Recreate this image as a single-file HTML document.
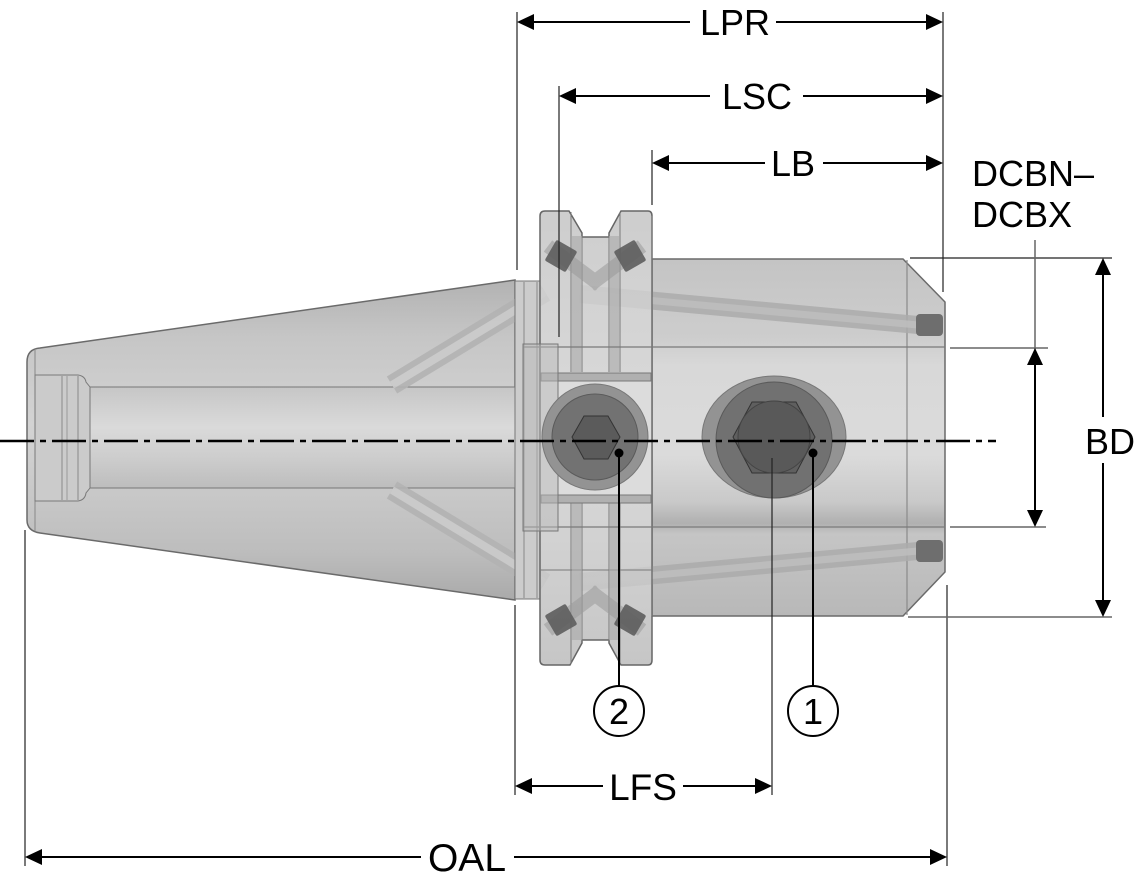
<!DOCTYPE html>
<html><head><meta charset="utf-8"><style>
html,body{margin:0;padding:0;background:#fff;}
svg{display:block;}
text{font-family:"Liberation Sans",Arial,sans-serif;fill:#000;}
</style></head><body>
<svg width="1139" height="879" viewBox="0 0 1139 879" xmlns="http://www.w3.org/2000/svg">
<defs>
 <linearGradient id="tg" gradientUnits="userSpaceOnUse" x1="0" y1="280" x2="0" y2="600">
  <stop offset="0" stop-color="#b2b2b2"/>
  <stop offset="0.18" stop-color="#c6c6c6"/>
  <stop offset="0.45" stop-color="#d3d3d3"/>
  <stop offset="0.6" stop-color="#cccccc"/>
  <stop offset="0.85" stop-color="#bdbdbd"/>
  <stop offset="1" stop-color="#aaaaaa"/>
 </linearGradient>
 <linearGradient id="bore" gradientUnits="userSpaceOnUse" x1="0" y1="387" x2="0" y2="488">
  <stop offset="0" stop-color="#c6c6c6"/>
  <stop offset="0.4" stop-color="#dadada"/>
  <stop offset="0.7" stop-color="#cdcdcd"/>
  <stop offset="1" stop-color="#bdbdbd"/>
 </linearGradient>
 <linearGradient id="bg" gradientUnits="userSpaceOnUse" x1="0" y1="259" x2="0" y2="616">
  <stop offset="0" stop-color="#c4c4c4"/>
  <stop offset="0.22" stop-color="#cdcdcd"/>
  <stop offset="0.3" stop-color="#d8d8d8"/>
  <stop offset="0.55" stop-color="#dbdbdb"/>
  <stop offset="0.68" stop-color="#c9c9c9"/>
  <stop offset="0.74" stop-color="#b0b0b0"/>
  <stop offset="0.77" stop-color="#c5c5c5"/>
  <stop offset="1" stop-color="#b8b8b8"/>
 </linearGradient>
 <linearGradient id="fg" gradientUnits="userSpaceOnUse" x1="0" y1="211" x2="0" y2="665">
  <stop offset="0" stop-color="#c8c8c8"/>
  <stop offset="0.5" stop-color="#d7d7d7"/>
  <stop offset="1" stop-color="#c0c0c0"/>
 </linearGradient>
</defs>

<!-- Taper -->
<path d="M27,362 Q27,349 40,348 L515,280 L515,600 L40,533 Q27,531 27,520 Z" fill="url(#tg)" stroke="#6a6a6a" stroke-width="1.5"/>
<line x1="35" y1="350" x2="35" y2="531" stroke="#888" stroke-width="1"/>
<!-- left pocket -->
<path d="M35,375 L78,375 Q85,376 86,382 L90,387 L90,488 L86,493 Q85,500 78,501 L35,501 Z" fill="#cbcbcb" stroke="#7a7a7a" stroke-width="1"/>
<line x1="62" y1="376" x2="62" y2="500" stroke="#8a8a8a" stroke-width="1"/>
<line x1="67" y1="376" x2="67" y2="500" stroke="#9a9a9a" stroke-width="1"/>
<line x1="78" y1="376" x2="78" y2="500" stroke="#8a8a8a" stroke-width="1"/>
<!-- bore -->
<rect x="90" y="387" width="433" height="101" fill="url(#bore)" stroke="#777" stroke-width="1"/>

<!-- coolant channels in taper -->
<g stroke-linecap="butt" opacity="0.9">
 <line x1="392" y1="385" x2="545" y2="292" stroke="#b3b3b3" stroke-width="20"/>
 <line x1="392" y1="385" x2="545" y2="292" stroke="#cbcbcb" stroke-width="8"/>
 <line x1="392" y1="490" x2="545" y2="583" stroke="#b3b3b3" stroke-width="20"/>
 <line x1="392" y1="490" x2="545" y2="583" stroke="#cbcbcb" stroke-width="8"/>
</g>

<!-- collar -->
<rect x="515" y="281" width="25" height="318" fill="#cccccc" stroke="#777" stroke-width="1"/>
<line x1="524" y1="282" x2="524" y2="598" stroke="#888" stroke-width="1"/>
<line x1="537" y1="282" x2="537" y2="598" stroke="#888" stroke-width="1"/>

<!-- body -->
<path d="M652,259 L903,259 L945,302 L945,572 L903,616 L652,616 Z" fill="url(#bg)" stroke="#6a6a6a" stroke-width="1.5"/>
<line x1="907" y1="260" x2="907" y2="615" stroke="#8a8a8a" stroke-width="1.2"/>
<!-- body coolant channels -->
<line x1="580" y1="294" x2="918" y2="325" stroke="#acacac" stroke-width="18" opacity="0.85"/>
<line x1="580" y1="294" x2="918" y2="325" stroke="#c0c0c0" stroke-width="7" opacity="0.8"/>
<line x1="580" y1="582" x2="918" y2="551" stroke="#acacac" stroke-width="18" opacity="0.85"/>
<line x1="580" y1="582" x2="918" y2="551" stroke="#c0c0c0" stroke-width="7" opacity="0.8"/>
<rect x="916" y="314" width="27" height="22" rx="4" fill="#6e6e6e"/>
<rect x="916" y="540" width="27" height="22" rx="4" fill="#6e6e6e"/>

<!-- flange -->
<path d="M540,216 Q540,211 545,211 L569,211 L582,233 L582,237 L609,237 L609,233 L621,211 L648,211 Q652,211 652,216 L652,660 Q652,665 648,665 L621,665 L609,643 L609,640 L582,640 L582,643 L570,665 L545,665 Q540,665 540,660 Z" fill="url(#fg)" fill-opacity="0.9" stroke="#666" stroke-width="1.5"/>
<g stroke="#7a7a7a" stroke-width="1" fill="none">
 <line x1="571" y1="212" x2="571" y2="372"/>
 <line x1="582" y1="236" x2="582" y2="372"/>
 <line x1="609" y1="236" x2="609" y2="372"/>
 <line x1="620" y1="212" x2="620" y2="372"/>
 <line x1="571" y1="502" x2="571" y2="664"/>
 <line x1="582" y1="502" x2="582" y2="641"/>
 <line x1="609" y1="502" x2="609" y2="641"/>
 <line x1="620" y1="502" x2="620" y2="664"/>
 <line x1="540" y1="570" x2="652" y2="570"/>
</g>
<rect x="572" y="236" width="10" height="136" fill="#a8a8a8" opacity="0.6"/>
<rect x="609" y="236" width="10" height="136" fill="#a8a8a8" opacity="0.6"/>
<rect x="572" y="502" width="10" height="138" fill="#a8a8a8" opacity="0.6"/>
<rect x="609" y="502" width="10" height="138" fill="#a8a8a8" opacity="0.6"/>
<!-- flange X channels -->
<g opacity="0.55">
 <line x1="548" y1="246" x2="600" y2="285" stroke="#9a9a9a" stroke-width="14"/>
 <line x1="642" y1="246" x2="590" y2="285" stroke="#9a9a9a" stroke-width="14"/>
 <line x1="548" y1="630" x2="600" y2="591" stroke="#9a9a9a" stroke-width="14"/>
 <line x1="642" y1="630" x2="590" y2="591" stroke="#9a9a9a" stroke-width="14"/>
</g>
<g fill="#5e5e5e" opacity="0.9">
 <rect x="-12" y="-12" width="24" height="24" rx="2" transform="translate(561,256) rotate(30)"/>
 <rect x="-12" y="-12" width="24" height="24" rx="2" transform="translate(630,256) rotate(-30)"/>
 <rect x="-12" y="-12" width="24" height="24" rx="2" transform="translate(561,620) rotate(-30)"/>
 <rect x="-12" y="-12" width="24" height="24" rx="2" transform="translate(630,620) rotate(30)"/>
</g>
<!-- clamp block -->
<rect x="541" y="380" width="110" height="115" fill="#dcdcdc"/>
<path d="M541,373 L651,373 L651,381 L541,381 Z" fill="#b0b0b0" stroke="#777" stroke-width="1"/>
<path d="M541,495 L651,495 L651,503 L541,503 Z" fill="#b0b0b0" stroke="#777" stroke-width="1"/>

<!-- internal DCB lines -->
<line x1="523" y1="347" x2="945" y2="347" stroke="#7a7a7a" stroke-width="1.2"/>
<line x1="523" y1="527" x2="945" y2="527" stroke="#7a7a7a" stroke-width="1.2"/>
<rect x="523" y="344" width="35" height="187" fill="#b9b9b9" fill-opacity="0.5" stroke="#777" stroke-width="1"/>
<line x1="652" y1="216" x2="652" y2="616" stroke="#777" stroke-width="1"/>

<!-- screw 2 -->
<circle cx="595" cy="437" r="53" fill="#939393" stroke="#777" stroke-width="1"/>
<circle cx="595" cy="437" r="43" fill="#727272" stroke="#5a5a5a" stroke-width="1"/>
<polygon points="572,437 584,416 608,416 620,437 608,459 584,459" fill="#5b5b5b" stroke="#333" stroke-width="1"/>
<!-- screw 1 -->
<ellipse cx="774" cy="437" rx="72" ry="61" fill="#939393" stroke="#777" stroke-width="1"/>
<circle cx="774" cy="440" r="58" fill="#717171" stroke="#5a5a5a" stroke-width="1"/>
<polygon points="733,437 752,402 796,402 815,437 796,473 752,473" fill="#5f5f5f" stroke="#333" stroke-width="1"/>
<circle cx="774" cy="437" r="36" fill="#595959" stroke="#444" stroke-width="1"/>

<!-- centerline -->
<line x1="0" y1="441" x2="996" y2="441" stroke="#000" stroke-width="2.5" stroke-dasharray="34 6 6 6"/>

<!-- leaders -->
<circle cx="619" cy="453" r="4.5" fill="#000"/>
<line x1="619" y1="453" x2="619" y2="686" stroke="#000" stroke-width="2"/>
<circle cx="619" cy="711" r="25" fill="#fff" stroke="#000" stroke-width="2"/>
<text x="619" y="724" font-size="36" text-anchor="middle">2</text>
<circle cx="813" cy="453" r="4.5" fill="#000"/>
<line x1="813" y1="453" x2="813" y2="686" stroke="#000" stroke-width="2"/>
<circle cx="813" cy="711" r="25" fill="#fff" stroke="#000" stroke-width="2"/>
<text x="813" y="724" font-size="36" text-anchor="middle">1</text>

<!-- extension lines -->
<g stroke="#222" stroke-width="1.2">
 <line x1="517" y1="12" x2="517" y2="270"/>
 <line x1="943" y1="12" x2="943" y2="292"/>
 <line x1="559" y1="86" x2="559" y2="337"/>
 <line x1="652" y1="150" x2="652" y2="205"/>
 <line x1="515" y1="605" x2="515" y2="795"/>
 <line x1="772" y1="458" x2="772" y2="795"/>
 <line x1="25" y1="530" x2="25" y2="866"/>
 <line x1="947" y1="585" x2="947" y2="866"/>
 <line x1="910" y1="258" x2="1112" y2="258"/>
</g>
<g stroke="#666" stroke-width="1.5">
 <line x1="908" y1="617" x2="1112" y2="617"/>
 <line x1="950" y1="348" x2="1048" y2="348"/>
 <line x1="950" y1="527" x2="1046" y2="527"/>
 <line x1="1035" y1="240" x2="1035" y2="350"/>
</g>

<!-- dimension lines -->
<g stroke="#000" stroke-width="2">
 <line x1="520" y1="22" x2="690" y2="22"/>
 <line x1="776" y1="22" x2="940" y2="22"/>
 <line x1="562" y1="96" x2="710" y2="96"/>
 <line x1="803" y1="96" x2="940" y2="96"/>
 <line x1="655" y1="163" x2="765" y2="163"/>
 <line x1="823" y1="163" x2="940" y2="163"/>
 <line x1="518" y1="786" x2="603" y2="786"/>
 <line x1="683" y1="786" x2="769" y2="786"/>
 <line x1="28" y1="857" x2="421" y2="857"/>
 <line x1="514" y1="857" x2="944" y2="857"/>
 <line x1="1035" y1="350" x2="1035" y2="525"/>
 <line x1="1103" y1="260" x2="1103" y2="417"/>
 <line x1="1103" y1="463" x2="1103" y2="615"/>
</g>
<!-- arrowheads -->
<g fill="#000">
 <polygon points="517,22 534,14 534,30"/>
 <polygon points="943,22 926,14 926,30"/>
 <polygon points="559,96 576,88 576,104"/>
 <polygon points="943,96 926,88 926,104"/>
 <polygon points="652,163 669,155 669,171"/>
 <polygon points="943,163 926,155 926,171"/>
 <polygon points="515,786 532,778 532,794"/>
 <polygon points="772,786 755,778 755,794"/>
 <polygon points="25,857 42,849 42,865"/>
 <polygon points="947,857 930,849 930,865"/>
 <polygon points="1035,348 1027,365 1043,365"/>
 <polygon points="1035,527 1027,510 1043,510"/>
 <polygon points="1103,258 1095,275 1111,275"/>
 <polygon points="1103,617 1095,600 1111,600"/>
</g>

<!-- labels -->
<text x="735" y="35" font-size="36" text-anchor="middle">LPR</text>
<text x="757" y="109" font-size="36" text-anchor="middle">LSC</text>
<text x="793" y="176" font-size="36" text-anchor="middle">LB</text>
<text x="972" y="186" font-size="36">DCBN–</text>
<text x="972" y="227" font-size="36">DCBX</text>
<text x="1085" y="454" font-size="36">BD</text>
<text x="643" y="800" font-size="37" text-anchor="middle">LFS</text>
<text x="467" y="871" font-size="39" text-anchor="middle">OAL</text>
</svg>
</body></html>
